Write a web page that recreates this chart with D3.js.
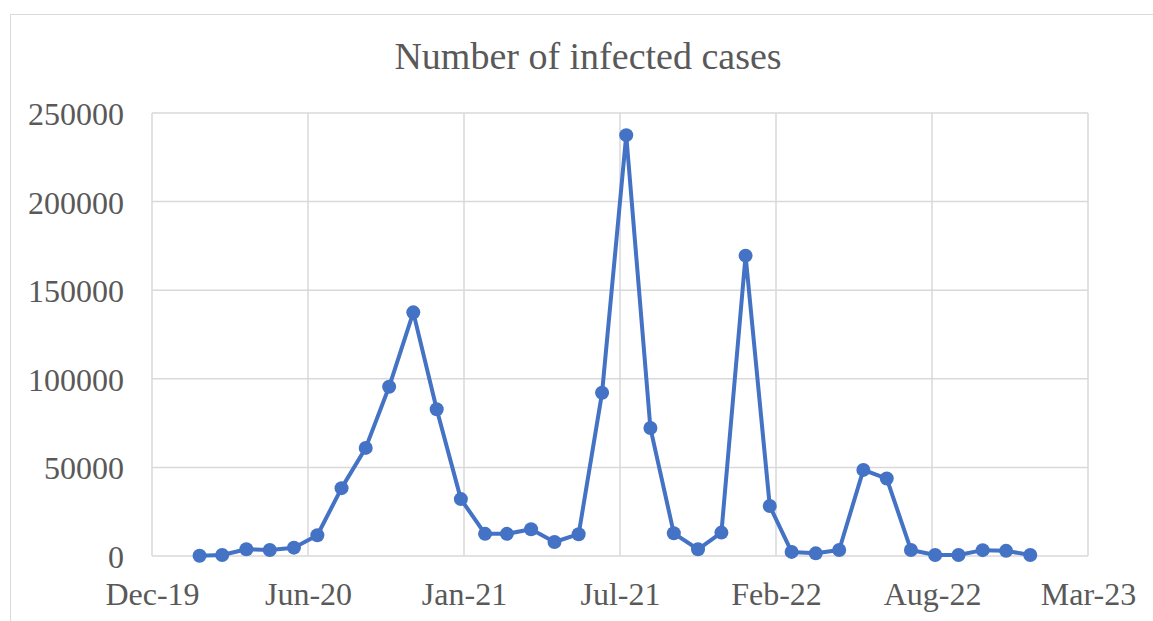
<!DOCTYPE html>
<html>
<head>
<meta charset="utf-8">
<script src="https://cdn.jsdelivr.net/npm/d3@7"></script>
<style>
  html, body { margin: 0; padding: 0; background: #fff; }
  svg { display: block; }
  text { font-family: "Liberation Serif", "Times New Roman", serif; fill: #595959; }
</style>
</head>
<body>
<svg id="chart" width="1153" height="621"></svg>
<script>
// Monthly reporting periods (plotted at the last day of each month)
const months = [
  "2020-01", "2020-02", "2020-03", "2020-04", "2020-05", "2020-06",
  "2020-07", "2020-08", "2020-09", "2020-10", "2020-11", "2020-12",
  "2021-01", "2021-02", "2021-03", "2021-04", "2021-05", "2021-06",
  "2021-07", "2021-08", "2021-09", "2021-10", "2021-11", "2021-12",
  "2022-01", "2022-02", "2022-03", "2022-04", "2022-05", "2022-06",
  "2022-07", "2022-08", "2022-09", "2022-10", "2022-11", "2022-12"
];

// Infected cases per month
const cases = [
  100, 600, 3800, 3400, 4700, 11700,
  38300, 61000, 95500, 137500, 82800, 32100,
  12500, 12500, 15100, 7900, 12300, 92100,
  237500, 72200, 12800, 3800, 13200, 169500,
  28200, 2300, 1500, 3400, 48600, 43700,
  3400, 600, 600, 3300, 2900, 600
];

// Axis settings
const yTicks = [0, 50000, 100000, 150000, 200000, 250000];
const xStart = "2019-12-01";
const xEnd = "2023-03-15";
const xTickStepDays = 200;
const title = "Number of infected cases";

const svg = d3.select("#chart");
const W = 1153, H = 621;

// Chart frame
svg.append("rect")
  .attr("x", 10.5).attr("y", 14.5)
  .attr("width", W + 10).attr("height", H + 10)
  .attr("fill", "#fff").attr("stroke", "#d9d9d9").attr("stroke-width", 1);

const plot = { left: 152, right: 1088, top: 113, bottom: 556 };

const parseDay = d3.timeParse("%Y-%m-%d");
const parseMonth = d3.timeParse("%Y-%m");
const monthEnd = m => d3.timeDay.offset(d3.timeMonth.offset(parseMonth(m), 1), -1);

const x0 = parseDay(xStart), x1 = parseDay(xEnd);
const x = d3.scaleTime().domain([x0, x1]).range([plot.left, plot.right]);
const y = d3.scaleLinear().domain([0, 250000]).range([plot.bottom, plot.top]);

const xTickVals = d3.range(0, 7).map(i => d3.timeDay.offset(x0, i * xTickStepDays));

// Horizontal gridlines
svg.append("g").selectAll("line").data(yTicks).join("line")
  .attr("x1", plot.left).attr("x2", plot.right)
  .attr("y1", d => y(d)).attr("y2", d => y(d))
  .attr("stroke", "#d9d9d9").attr("stroke-width", 1.5);

// Vertical gridlines
svg.append("g").selectAll("line").data(xTickVals).join("line")
  .attr("x1", d => x(d)).attr("x2", d => x(d))
  .attr("y1", plot.top).attr("y2", plot.bottom)
  .attr("stroke", "#d9d9d9").attr("stroke-width", 1.5);

// Y axis labels
const yAxis = d3.axisLeft(y).tickValues(yTicks).tickSize(0).tickPadding(0)
  .tickFormat(d3.format("d"));
svg.append("g").attr("transform", `translate(${plot.left - 28},0)`)
  .call(yAxis)
  .call(g => g.select(".domain").remove())
  .call(g => g.selectAll("text")
    .attr("dy", "0.36em")
    .attr("font-size", 32).attr("font-family", "Liberation Serif").attr("fill", "#595959"));

// X axis labels
const xAxis = d3.axisBottom(x).tickValues(xTickVals).tickSize(0).tickPadding(0)
  .tickFormat(d3.timeFormat("%b-%y"));
svg.append("g").attr("transform", `translate(0,${plot.bottom + 26})`)
  .call(xAxis)
  .call(g => g.select(".domain").remove())
  .call(g => g.selectAll("text")
    .attr("font-size", 32).attr("font-family", "Liberation Serif").attr("fill", "#595959"));

// Title
svg.append("text")
  .attr("x", 588).attr("y", 69)
  .attr("text-anchor", "middle")
  .attr("font-size", 38)
  .text(title);

// Series
const data = months.map((m, i) => ({ date: monthEnd(m), value: cases[i] }));

svg.append("path")
  .datum(data)
  .attr("fill", "none")
  .attr("stroke", "#4472C4")
  .attr("stroke-width", 4)
  .attr("stroke-linejoin", "round")
  .attr("d", d3.line().x(d => x(d.date)).y(d => y(d.value)));

svg.append("g").selectAll("circle").data(data).join("circle")
  .attr("cx", d => x(d.date)).attr("cy", d => y(d.value))
  .attr("r", 7)
  .attr("fill", "#4472C4");
</script>
</body>
</html>
